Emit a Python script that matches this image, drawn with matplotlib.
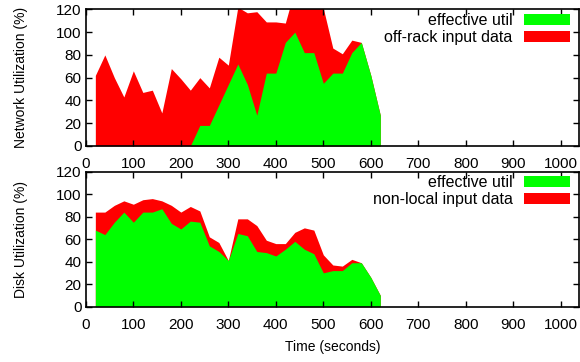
import numpy as np
import matplotlib
matplotlib.use("Agg")
import matplotlib.pyplot as plt

plt.rcParams['font.family'] = ['Liberation Sans', 'DejaVu Sans']

# sample times (seconds)
t = np.arange(20, 621, 20)

# network utilization (%)
net_total = [62, 80, 60, 43, 66, 47, 49, 29, 68, 59, 49, 60, 51, 78, 71, 122,
             117, 118, 109, 109, 108, 138, 140, 130, 121, 86, 81, 93, 91, 62, 27]
net_eff = [0, 0, 0, 0, 0, 0, 0, 0, 0, 0, 0, 18, 18, 36, 54, 72,
           54, 27, 64, 64, 91, 100, 82, 82, 55, 64, 64, 82, 91, 62, 27]

# disk utilization (%)
disk_total = [84, 84, 90, 94, 91, 95, 96, 94, 90, 84, 89, 85, 62, 57, 41, 78,
              78, 72, 59, 56, 56, 66, 70, 68, 46, 37, 36, 42, 39, 26, 10]
disk_eff = [68, 64, 75, 84, 75, 84, 84, 87, 74, 69, 76, 75, 54, 49, 41, 65,
            63, 49, 48, 45, 51, 58, 51, 47, 30, 32, 32, 39, 39, 26, 10]

GREEN = '#00ff00'
RED = '#ff0000'

fig = plt.figure(figsize=(5.8, 3.62), dpi=100)
ax1 = fig.add_axes([0.148, 0.597, 0.850, 0.377])
ax2 = fig.add_axes([0.148, 0.153, 0.850, 0.373])


def style(ax, ylabel):
    ax.set_xlim(0, 1038)
    ax.set_ylim(0, 120)
    ax.set_xticks(range(0, 1001, 100))
    ax.set_yticks(range(0, 121, 20))
    ax.tick_params(direction='in', length=4, width=1, labelsize=11,
                   top=True, right=True, pad=3)
    ax.tick_params(axis='x', pad=8)
    for s in ax.spines.values():
        s.set_linewidth(1.2)
    ax.set_ylabel(ylabel, fontsize=10)
    ax.yaxis.set_label_coords(-0.118, 0.5)


ax1.fill_between(t, 0, net_total, color=RED, lw=0, label='off-rack input data')
ax1.fill_between(t, 0, net_eff, color=GREEN, lw=0, label='effective util')
style(ax1, 'Network Utilization (%)')

ax2.fill_between(t, 0, disk_total, color=RED, lw=0, label='non-local input data')
ax2.fill_between(t, 0, disk_eff, color=GREEN, lw=0, label='effective util')
style(ax2, 'Disk Utilization (%)')
ax2.set_xlabel('Time (seconds)', fontsize=10, labelpad=6)

for ax in (ax1, ax2):
    h, l = ax.get_legend_handles_labels()
    ax.legend(h[::-1], l[::-1], loc='upper right', bbox_to_anchor=(0.982, 0.972),
              frameon=False, markerfirst=False, fontsize=11.5,
              handlelength=2.9, handleheight=0.7, labelspacing=0.1,
              handletextpad=0.7, borderaxespad=0, borderpad=0)

fig.savefig('out.png', dpi=100)
